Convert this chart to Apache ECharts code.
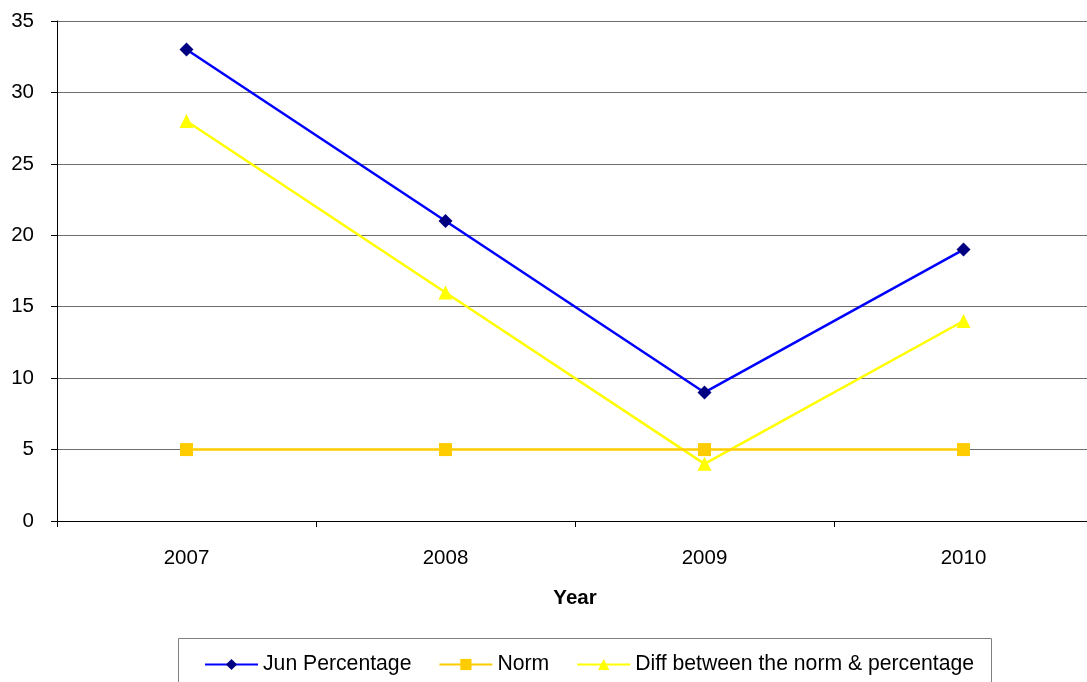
<!DOCTYPE html>
<html><head><meta charset="utf-8">
<script src="https://cdn.jsdelivr.net/npm/echarts@6/dist/echarts.min.js"></script>
<style>html,body{margin:0;padding:0;background:#fff;overflow:hidden;width:1087px;height:682px}#c{width:1093px;height:682px}</style>
</head><body><div id="c"></div>
<script>
const categories = ['2007', '2008', '2009', '2010'];
const junPercentage = [33, 21, 9, 19];
const norm = [5, 5, 5, 5];
const diff = [28, 16, 4, 14];
const yTicks = {min: 0, max: 35, interval: 5};

const chart = echarts.init(document.getElementById('c'), null, {renderer: 'canvas'});
const font = 'Liberation Sans, Arial, sans-serif';
chart.setOption({
  animation: false,
  backgroundColor: '#fff',
  graphic: [{
    type: 'rect', shape: {x: 178.5, y: 638.5, width: 813, height: 60},
    style: {fill: 'none', stroke: '#808080', lineWidth: 1}, z: -1
  }],
  grid: {left: 57, right: 0, top: 21, bottom: 161, containLabel: false},
  xAxis: {
    type: 'category', data: categories, boundaryGap: true,
    name: 'Year', nameLocation: 'middle', nameGap: 67,
    nameTextStyle: {fontFamily: font, fontSize: 20.5, fontWeight: 'bold', color: '#000'},
    axisLine: {lineStyle: {color: '#000', width: 1}},
    axisTick: {show: true, length: 6, alignWithLabel: false, lineStyle: {color: '#000'}},
    axisLabel: {fontFamily: font, fontSize: 20.5, color: '#000', margin: 27},
    splitLine: {show: false}
  },
  yAxis: {
    type: 'value', min: yTicks.min, max: yTicks.max, interval: yTicks.interval,
    axisLine: {show: true, lineStyle: {color: '#000', width: 1}},
    axisTick: {show: true, length: 6, lineStyle: {color: '#000'}},
    axisLabel: {fontFamily: font, fontSize: 20.5, color: '#000', margin: 23},
    splitLine: {show: true, lineStyle: {color: '#6e6e6e', width: 1}}
  },
  legend: {
    top: 649, left: 199, itemWidth: 53, itemHeight: 14, itemGap: 27,
    textStyle: {fontFamily: font, fontSize: 21.2, color: '#000'},
    data: ['Jun Percentage', 'Norm', 'Diff between the norm & percentage']
  },
  series: [
    {name: 'Jun Percentage', type: 'line', data: junPercentage,
     symbol: 'diamond', symbolSize: 14,
     lineStyle: {color: '#0000FF', width: 2.5}, itemStyle: {color: '#000080'}, z: 4},
    {name: 'Norm', type: 'line', data: norm,
     symbol: 'rect', symbolSize: 13,
     lineStyle: {color: '#FFCC00', width: 2.5}, itemStyle: {color: '#FFCC00'}, z: 3},
    {name: 'Diff between the norm & percentage', type: 'line', data: diff,
     symbol: 'triangle', symbolSize: 14,
     lineStyle: {color: '#FFFF00', width: 2.5}, itemStyle: {color: '#FFFF00'}, z: 2}
  ]
});
</script></body></html>
